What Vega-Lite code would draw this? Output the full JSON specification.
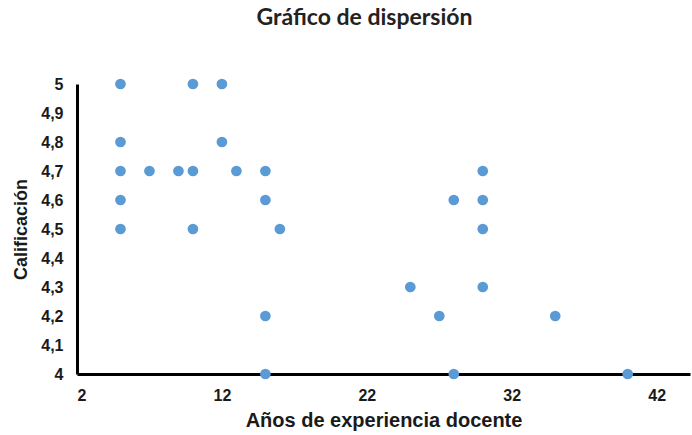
{
  "$schema": "https://vega.github.io/schema/vega-lite/v6.json",
  "width": 613,
  "height": 290,
  "autosize": {"type": "none"},
  "padding": {"left": 77, "top": 84, "right": 2, "bottom": 61},
  "background": "white",
  "title": {
    "text": "Gráfico de dispersión",
    "font": "Lato",
    "fontSize": 23,
    "fontWeight": "bold",
    "color": "#222222",
    "anchor": "middle",
    "offset": 46,
    "dx": -19
  },
  "data": {
    "values": [
      {"anos": 5, "calif": 5.0},
      {"anos": 5, "calif": 4.8},
      {"anos": 5, "calif": 4.7},
      {"anos": 5, "calif": 4.6},
      {"anos": 5, "calif": 4.5},
      {"anos": 7, "calif": 4.7},
      {"anos": 9, "calif": 4.7},
      {"anos": 10, "calif": 5.0},
      {"anos": 10, "calif": 4.7},
      {"anos": 10, "calif": 4.5},
      {"anos": 12, "calif": 5.0},
      {"anos": 12, "calif": 4.8},
      {"anos": 13, "calif": 4.7},
      {"anos": 15, "calif": 4.7},
      {"anos": 15, "calif": 4.6},
      {"anos": 15, "calif": 4.2},
      {"anos": 15, "calif": 4.0},
      {"anos": 16, "calif": 4.5},
      {"anos": 25, "calif": 4.3},
      {"anos": 27, "calif": 4.2},
      {"anos": 28, "calif": 4.6},
      {"anos": 28, "calif": 4.0},
      {"anos": 30, "calif": 4.7},
      {"anos": 30, "calif": 4.6},
      {"anos": 30, "calif": 4.5},
      {"anos": 30, "calif": 4.3},
      {"anos": 35, "calif": 4.2},
      {"anos": 40, "calif": 4.0}
    ]
  },
  "mark": {"type": "circle", "size": 115, "color": "#5B9BD5", "opacity": 1},
  "encoding": {
    "x": {
      "field": "anos",
      "type": "quantitative",
      "scale": {"domain": [2, 44.3], "nice": false, "zero": false},
      "axis": {
        "title": "Años de experiencia docente",
        "values": [2, 12, 22, 32, 42],
        "format": "d",
        "grid": false,
        "ticks": false,
        "domainColor": "black",
        "domainWidth": 3,
        "labelPadding": 13,
        "labelFont": "Liberation Sans",
        "labelFontWeight": "bold",
        "labelFontSize": 16,
        "labelColor": "#1a1a1a",
        "titleFont": "Liberation Sans",
        "titleFontWeight": "bold",
        "titleFontSize": 20,
        "titleColor": "#1a1a1a",
        "titlePadding": 7
      }
    },
    "y": {
      "field": "calif",
      "type": "quantitative",
      "scale": {"domain": [4, 5], "nice": false, "zero": false},
      "axis": {
        "title": "Calificación",
        "values": [4, 4.1, 4.2, 4.3, 4.4, 4.5, 4.6, 4.7, 4.8, 4.9, 5],
        "format": ".1~f",
        "grid": false,
        "ticks": false,
        "domainColor": "black",
        "domainWidth": 3,
        "labelPadding": 14,
        "labelFont": "Liberation Sans",
        "labelFontWeight": "bold",
        "labelFontSize": 16,
        "labelColor": "#1a1a1a",
        "titleFont": "Liberation Sans",
        "titleFontWeight": "bold",
        "titleFontSize": 18,
        "titleColor": "#1a1a1a",
        "titlePadding": 10
      }
    }
  },
  "config": {
    "view": {"stroke": null},
    "locale": {
      "number": {
        "decimal": ",",
        "thousands": ".",
        "grouping": [3],
        "currency": ["", " €"]
      }
    }
  }
}
